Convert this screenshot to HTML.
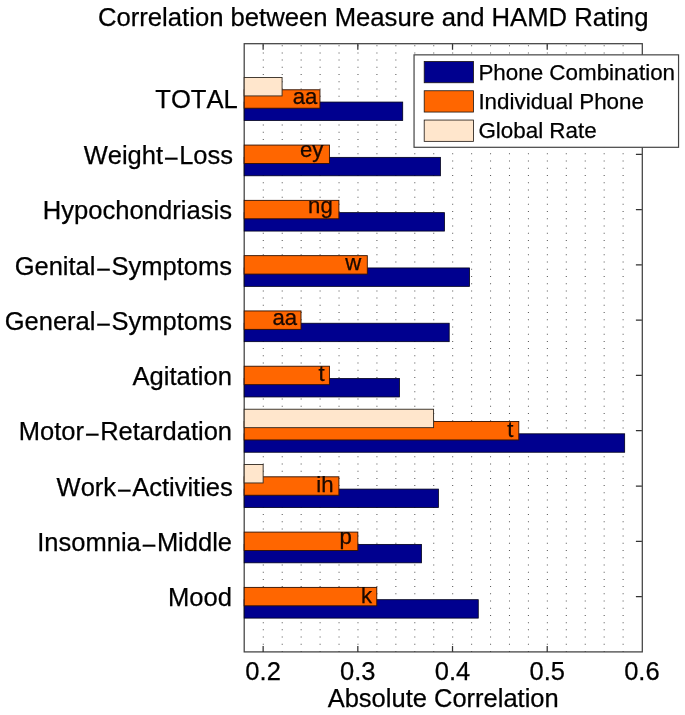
<!DOCTYPE html>
<html lang="en"><head><meta charset="utf-8"><title>Correlation between Measure and HAMD Rating</title>
<style>html,body{margin:0;padding:0;background:#fff}svg{display:block}</style></head>
<body>
<svg width="685" height="715" viewBox="0 0 685 715" font-family="'Liberation Sans', sans-serif" fill="#000" stroke="#000" stroke-width="0.25" style="font-kerning:none">
<rect x="0" y="0" width="685" height="715" fill="#fff" stroke="none"/>
<path d="M263.29 652.0V43.70M282.23 652.0V43.70M301.16 652.0V43.70M320.10 652.0V43.70M339.04 652.0V43.70M357.98 652.0V43.70M376.92 652.0V43.70M395.85 652.0V43.70M414.79 652.0V43.70M433.73 652.0V43.70M452.67 652.0V43.70M471.61 652.0V43.70M490.55 652.0V43.70M509.48 652.0V43.70M528.42 652.0V43.70M547.36 652.0V43.70M566.30 652.0V43.70M585.24 652.0V43.70M604.17 652.0V43.70M623.11 652.0V43.70" stroke="#5a5a5a" stroke-width="1.05" stroke-dasharray="1 6.212" fill="none"/>
<path d="M263.14 43.70v6M263.14 651.90v-6M357.83 43.70v6M357.83 651.90v-6M452.52 43.70v6M452.52 651.90v-6M547.21 43.70v6M547.21 651.90v-6M641.90 596.61h-6M641.90 541.32h-6M641.90 486.03h-6M641.90 430.74h-6M641.90 375.45h-6M641.90 320.15h-6M641.90 264.86h-6M641.90 209.57h-6M641.90 154.28h-6M641.90 98.99h-6" stroke="#333" stroke-width="1.25" fill="none"/>
<rect x="244.20" y="43.70" width="398.10" height="608.20" fill="none" stroke="#404040" stroke-width="1.25"/>
<rect x="244.20" y="599.68" width="234.07" height="18.43" fill="#00008f" stroke="#00001a" stroke-width="0.8"/>
<rect x="244.20" y="587.39" width="132.57" height="18.43" fill="#ff6600" stroke="#301000" stroke-width="0.9"/>
<text x="366.65" y="602.8" font-size="22.15" text-anchor="middle" fill="#1a0800">k</text>
<rect x="244.20" y="544.39" width="177.26" height="18.43" fill="#00008f" stroke="#00001a" stroke-width="0.8"/>
<rect x="244.20" y="532.10" width="113.63" height="18.43" fill="#ff6600" stroke="#301000" stroke-width="0.9"/>
<text x="345.65" y="543.8" font-size="22.15" text-anchor="middle" fill="#1a0800">p</text>
<rect x="244.20" y="489.10" width="194.21" height="18.43" fill="#00008f" stroke="#00001a" stroke-width="0.8"/>
<rect x="244.20" y="476.81" width="94.69" height="18.43" fill="#ff6600" stroke="#301000" stroke-width="0.9"/>
<rect x="244.20" y="464.53" width="18.94" height="18.43" fill="#ffe6cc" stroke="#302820" stroke-width="0.9"/>
<text x="324.90" y="491.7" font-size="22.15" text-anchor="middle" fill="#1a0800">ih</text>
<rect x="244.20" y="433.81" width="380.47" height="18.43" fill="#00008f" stroke="#00001a" stroke-width="0.8"/>
<rect x="244.20" y="421.52" width="274.60" height="18.43" fill="#ff6600" stroke="#301000" stroke-width="0.9"/>
<rect x="244.20" y="409.23" width="189.38" height="18.43" fill="#ffe6cc" stroke="#302820" stroke-width="0.9"/>
<text x="510.40" y="436.5" font-size="22.15" text-anchor="middle" fill="#1a0800">t</text>
<rect x="244.20" y="378.52" width="155.29" height="18.43" fill="#00008f" stroke="#00001a" stroke-width="0.8"/>
<rect x="244.20" y="366.23" width="85.22" height="18.43" fill="#ff6600" stroke="#301000" stroke-width="0.9"/>
<text x="321.60" y="380.8" font-size="22.15" text-anchor="middle" fill="#1a0800">t</text>
<rect x="244.20" y="323.23" width="205.00" height="18.43" fill="#00008f" stroke="#00001a" stroke-width="0.8"/>
<rect x="244.20" y="310.94" width="56.81" height="18.43" fill="#ff6600" stroke="#301000" stroke-width="0.9"/>
<text x="284.70" y="325.0" font-size="22.15" text-anchor="middle" fill="#1a0800">aa</text>
<rect x="244.20" y="267.94" width="225.36" height="18.43" fill="#00008f" stroke="#00001a" stroke-width="0.8"/>
<rect x="244.20" y="255.65" width="123.10" height="18.43" fill="#ff6600" stroke="#301000" stroke-width="0.9"/>
<text x="353.25" y="269.7" font-size="22.15" text-anchor="middle" fill="#1a0800">w</text>
<rect x="244.20" y="212.64" width="200.27" height="18.43" fill="#00008f" stroke="#00001a" stroke-width="0.8"/>
<rect x="244.20" y="200.36" width="94.69" height="18.43" fill="#ff6600" stroke="#301000" stroke-width="0.9"/>
<text x="320.40" y="212.9" font-size="22.15" text-anchor="middle" fill="#1a0800">ng</text>
<rect x="244.20" y="157.35" width="196.20" height="18.43" fill="#00008f" stroke="#00001a" stroke-width="0.8"/>
<rect x="244.20" y="145.07" width="85.22" height="18.43" fill="#ff6600" stroke="#301000" stroke-width="0.9"/>
<text x="311.75" y="157.3" font-size="22.15" text-anchor="middle" fill="#1a0800">ey</text>
<rect x="244.20" y="102.06" width="158.51" height="18.43" fill="#00008f" stroke="#00001a" stroke-width="0.8"/>
<rect x="244.20" y="89.78" width="75.75" height="18.43" fill="#ff6600" stroke="#301000" stroke-width="0.9"/>
<rect x="244.20" y="77.49" width="37.88" height="18.43" fill="#ffe6cc" stroke="#302820" stroke-width="0.9"/>
<text x="304.95" y="104.1" font-size="22.15" text-anchor="middle" fill="#1a0800">aa</text>
<text x="232.0" y="605.7" font-size="25.6" text-anchor="end">Mood</text>
<text x="232.0" y="551.0" font-size="25.5" text-anchor="end">Insomnia<tspan dx="0.9" dy="3">−</tspan><tspan dx="0.3" dy="-3">Middle</tspan></text>
<text x="232.8" y="495.7" font-size="25.5" text-anchor="end">Work<tspan dx="0.9" dy="3">−</tspan><tspan dx="0.3" dy="-3">Activities</tspan></text>
<text x="232.0" y="440.4" font-size="25.5" text-anchor="end">Motor<tspan dx="0.9" dy="3">−</tspan><tspan dx="0.3" dy="-3">Retardation</tspan></text>
<text x="232.0" y="384.5" font-size="25.6" text-anchor="end">Agitation</text>
<text x="232.0" y="329.9" font-size="25.5" text-anchor="end">General<tspan dx="0.9" dy="3">−</tspan><tspan dx="0.3" dy="-3">Symptoms</tspan></text>
<text x="232.0" y="274.6" font-size="25.5" text-anchor="end">Genital<tspan dx="0.9" dy="3">−</tspan><tspan dx="0.3" dy="-3">Symptoms</tspan></text>
<text x="232.0" y="218.7" font-size="25.6" text-anchor="end">Hypochondriasis</text>
<text x="233.0" y="164.3" font-size="25.5" text-anchor="end">Weight<tspan dx="0.9" dy="3">−</tspan><tspan dx="0.3" dy="-3">Loss</tspan></text>
<text x="237.8" y="108.4" font-size="25.6" text-anchor="end">TOTAL</text>
<text x="263.1" y="680.4" font-size="25.5" text-anchor="middle">0.2</text>
<text x="357.8" y="680.4" font-size="25.5" text-anchor="middle">0.3</text>
<text x="452.5" y="680.4" font-size="25.5" text-anchor="middle">0.4</text>
<text x="547.2" y="680.4" font-size="25.5" text-anchor="middle">0.5</text>
<text x="641.9" y="680.4" font-size="25.5" text-anchor="middle">0.6</text>
<text x="443.2" y="706.5" font-size="25.5" text-anchor="middle">Absolute Correlation</text>
<text x="373.2" y="25.9" font-size="25.67" text-anchor="middle">Correlation between Measure and HAMD Rating</text>
<rect x="414.05" y="54.85" width="264.50" height="92.45" fill="#fff" stroke="#444" stroke-width="1.2"/>
<rect x="424.2" y="61.45" width="49.3" height="21.3" fill="#00008f" stroke="#1c1410" stroke-width="0.8"/>
<text x="478.4" y="79.9" font-size="22.4">Phone Combination</text>
<rect x="424.2" y="90.75" width="49.3" height="21.3" fill="#ff6600" stroke="#1c1410" stroke-width="0.8"/>
<text x="478.4" y="109.2" font-size="22.4">Individual Phone</text>
<rect x="424.2" y="120.05" width="49.3" height="21.3" fill="#ffe6cc" stroke="#1c1410" stroke-width="0.8"/>
<text x="478.4" y="137.9" font-size="22.4">Global Rate</text>
</svg>
</body></html>
